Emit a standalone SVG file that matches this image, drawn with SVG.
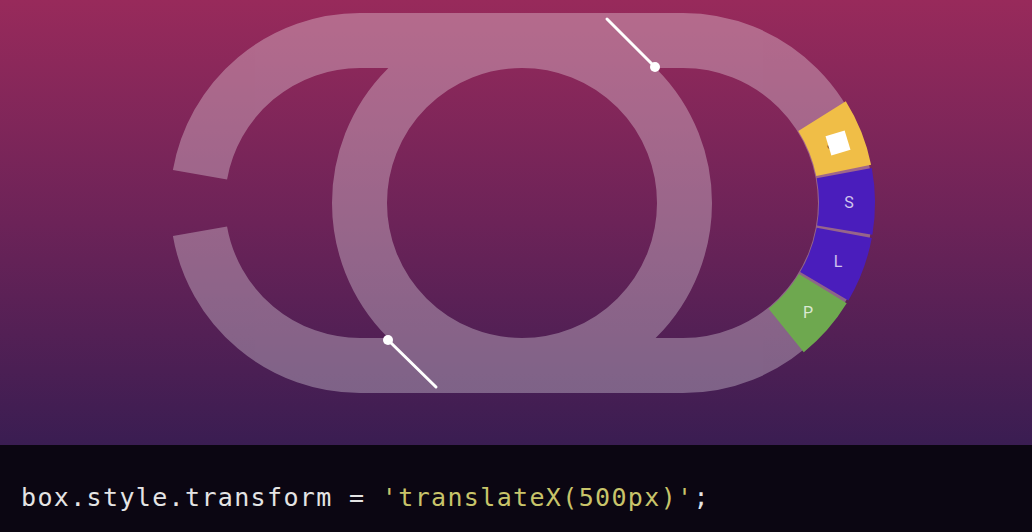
<svg xmlns="http://www.w3.org/2000/svg" width="1032" height="532" viewBox="0 0 1032 532">
<defs>
<linearGradient id="bg" x1="0" y1="0" x2="0" y2="445" gradientUnits="userSpaceOnUse">
<stop offset="0" stop-color="#982a5b"/>
<stop offset="0.5" stop-color="#6c2358"/>
<stop offset="1" stop-color="#3a1d52"/>
</linearGradient>
</defs>
<style>
.track{fill:none;stroke:#ffffff;stroke-width:55}
.lbl{font-family:Roboto,"Liberation Sans",sans-serif;font-size:16px;fill:#ffffff;fill-opacity:0.75;text-anchor:middle;dominant-baseline:central}
.code{font-family:"DejaVu Sans Mono","Liberation Mono",monospace;font-size:25px;letter-spacing:1.35px}
.pin{stroke:#ffffff;stroke-width:3;stroke-linecap:round}
</style>
<rect x="0" y="0" width="1032" height="445" fill="url(#bg)"/>
<rect x="0" y="445" width="1032" height="87" fill="#0b0612"/>
<g id="track" opacity="0.3">
<path class="track" d="M 199.97 174.78 A 162.5 162.5 0 0 1 360 40.5 L 683 40.5 A 162.5 162.5 0 0 1 683 365.5 L 360 365.5 A 162.5 162.5 0 0 1 199.97 231.22"/>
<circle class="track" cx="522" cy="203" r="162.5"/>
</g>
<g id="seg-js">
<path d="M 845.8 101.3 A 192 192 0 0 1 871.1 164.7 L 816.3 175.9 A 136 136 0 0 0 798.3 130.9 Z" fill="#f0be47"/>
<text x="836" y="143" class="lbl" style="fill:#6a4a2a;fill-opacity:0.8">JS</text>
<rect x="828" y="133" width="20" height="20" fill="#ffffff" transform="rotate(-17 838 143)"/>
</g>
<g id="seg-s">
<path d="M 871.8 168 A 192 192 0 0 1 872.4 234.7 L 817.1 225.4 A 136 136 0 0 0 816.7 178.2 Z" fill="#4a1dbc"/>
<text x="849" y="202" class="lbl">S</text>
</g>
<g id="seg-l">
<path d="M 871.8 238 A 192 192 0 0 1 848.4 300.4 L 800.2 272 A 136 136 0 0 0 816.7 227.8 Z" fill="#4a1dbc"/>
<text x="838" y="261" class="lbl">L</text>
</g>
<g id="seg-p">
<path d="M 846.7 303.3 A 192 192 0 0 1 803.8 352.2 L 768.6 308.7 A 136 136 0 0 0 799 274.1 Z" fill="#6ea84f"/>
<text x="808" y="312" class="lbl">P</text>
</g>
<g id="connectors">
<line class="pin" x1="607" y1="19" x2="655" y2="67"/>
<circle cx="655" cy="67" r="5" fill="#ffffff"/>
<line class="pin" x1="388" y1="340" x2="436" y2="387"/>
<circle cx="388" cy="340" r="5" fill="#ffffff"/>
</g>
<g id="code">
<text x="21" y="506" class="code"><tspan fill="#e4e4e4">box.style.transform = </tspan><tspan fill="#c8c46a">'translateX(500px)'</tspan><tspan fill="#e4e4e4">;</tspan></text>
</g>
</svg>
